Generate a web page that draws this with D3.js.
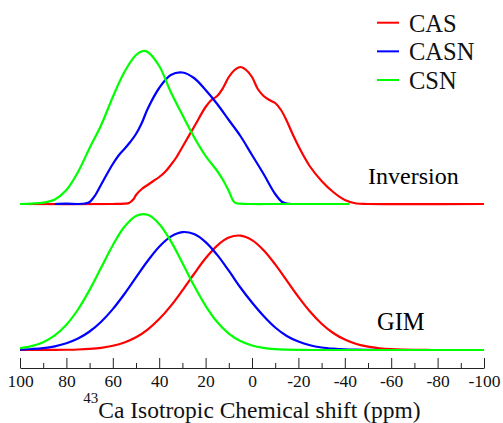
<!DOCTYPE html>
<html>
<head>
<meta charset="utf-8">
<script src="https://cdn.jsdelivr.net/npm/d3@7/dist/d3.min.js"></script>
<style>
  html, body { margin: 0; padding: 0; background: #fff; }
  svg { display: block; }
</style>
</head>
<body>
<svg id="chart" width="503" height="423"></svg>
<script>
// 43Ca isotropic chemical shift distributions, two panels:
// "Inversion" (upper, offset) and "GIM" (lower).

// Shift grid (ppm) for the GIM curves
const gimShift = [100, 95, 90, 85, 80, 75, 70, 65, 60, 55,
                  50, 45, 40, 35, 30, 25, 20, 15, 10, 5,
                  0, -5, -10, -15, -20, -25, -30, -35, -40, -45,
                  -50, -55, -60, -65, -70, -75, -80, -85, -90, -95, -100];

// GIM intensities (arbitrary units)
const gimCAS  = [0, 0, 0.04, 0.1, 0.23, 0.5, 1.1, 2.2, 4.2, 7.5,
                 12.7, 20.4, 30.9, 44.1, 59.6, 76.0, 91.7, 104.4, 112.4, 114.4,
                 109.9, 99.8, 85.6, 69.4, 53.2, 38.5, 26.3, 17.0, 10.4, 6.0,
                 3.3, 1.7, 0.8, 0.35, 0.15, 0.06, 0, 0, 0, 0, 0];
const gimCASN = [0.45, 1.0, 1.9, 3.7, 6.7, 11.4, 18.5, 28.3, 40.9, 56.0,
                 72.6, 89.0, 103.3, 113.4, 117.9, 115.9, 107.9, 95.1, 79.3, 62.5,
                 47.5, 34.0, 22.5, 14.0, 8.4, 4.7, 2.5, 1.3, 0.6, 0.3,
                 0.1, 0, 0, 0, 0, 0, 0, 0, 0, 0, 0];
const gimCSN  = [1.8, 3.9, 7.8, 14.6, 25.3, 40.5, 60.1, 82.5, 104.8, 123.2,
                 134.1, 135.2, 126.1, 108.9, 87.1, 64.4, 44.2, 28.0, 16.4, 8.9,
                 4.5, 2.1, 0.9, 0.4, 0.15, 0, 0, 0, 0, 0,
                 0, 0, 0, 0, 0, 0, 0, 0, 0, 0, 0];

// Inversion curves: shift (ppm) and intensity per system
const invShiftCAS = [100, 60, 55, 53, 51, 50, 47.5, 45, 42.5, 40,
                     37.5, 35, 32.5, 30, 25, 20, 17.5, 15, 12.5, 10,
                     7.5, 5, 2.5, 0, -2.5, -5, -7.5, -10, -12.5, -15,
                     -17.5, -20, -25, -30, -35, -40, -45, -50, -100];
const invCAS      = [0, 0, 0.3, 1, 5, 9, 15, 19, 23, 27,
                     32, 39, 47, 57, 77, 97, 104, 108, 116, 127,
                     134, 137, 134, 127, 115, 108, 104, 101, 94, 83,
                     70, 58, 37.5, 23, 12, 4, 0.5, 0, 0];

const invShiftCASN = [85, 80, 75, 72, 70, 67.5, 65, 62.5, 60, 57.5,
                      55, 52.5, 50, 47.5, 45, 40, 35, 30, 25, 20,
                      15, 10, 5, 0, -5, -10, -13, -15, -18];
const invCASN      = [0, 0.3, 0, 0.5, 2, 9, 19.5, 30, 40, 48.5,
                      55, 62, 70, 81, 95, 116, 129, 131.5, 126, 114,
                      100, 84, 68, 49, 30, 10, 2, 0.3, 0];

const invShiftCSN = [100, 95, 90, 85, 80, 75, 70, 65, 60, 55,
                     50, 47, 45, 40, 35, 30, 25, 20, 15, 12.5,
                     10, 7.5, 5, 0, -10, -42];
const invCSN      = [0, 0.4, 1.3, 4.5, 14, 32, 56, 79, 107, 132,
                     149, 153, 152, 138, 112, 89, 67, 48, 33, 24,
                     13, 1.5, 0.3, 0, 0, 0];

const seriesNames  = ["CAS", "CASN", "CSN"];
const seriesColors = ["#ff0000", "#0000ff", "#00ff00"];

const majorTicks = [100, 80, 60, 40, 20, 0, -20, -40, -60, -80, -100];
const minorTicks = [90, 70, 50, 30, 10, -10, -30, -50, -70, -90];

const inversionOffset = 146;

const svg = d3.select("#chart");
const serif = "'Liberation Serif', 'Times New Roman', serif";

const x = d3.scaleLinear().domain([100, -100]).range([20, 484]);
const y = d3.scaleLinear().domain([0, 350]).range([350, 0]);

const zip = (xs, ys) => xs.map((v, i) => [v, ys[i]]);

function drawPanel(sets, offset) {
  const line = d3.line()
    .x(d => x(d[0]))
    .y(d => y(d[1] + offset))
    .curve(d3.curveCatmullRom.alpha(0.5));
  svg.append("g")
    .selectAll("path")
    .data(sets)
    .join("path")
    .attr("d", d => line(d.points))
    .attr("fill", "none")
    .attr("stroke", d => d.color)
    .attr("stroke-width", 2.2)
    .attr("stroke-linejoin", "round");
}

// GIM panel
drawPanel([
  { points: zip(gimShift, gimCAS),  color: seriesColors[0] },
  { points: zip(gimShift, gimCASN), color: seriesColors[1] },
  { points: zip(gimShift, gimCSN),  color: seriesColors[2] }
], 0);

// Inversion panel
drawPanel([
  { points: zip(invShiftCAS, invCAS),   color: seriesColors[0] },
  { points: zip(invShiftCASN, invCASN), color: seriesColors[1] },
  { points: zip(invShiftCSN, invCSN),   color: seriesColors[2] }
], inversionOffset);

// Panel labels
svg.append("text")
  .attr("x", 368).attr("y", 184)
  .attr("font-family", serif).attr("font-size", 24)
  .attr("fill", "#000")
  .text("Inversion");
svg.append("text")
  .attr("x", 377).attr("y", 330)
  .attr("font-family", serif).attr("font-size", 24.5)
  .attr("fill", "#000")
  .text("GIM");

// x axis: major ticks with labels, minor ticks without
const axisY = 368;
const gMajor = svg.append("g")
  .attr("transform", `translate(0,${axisY})`)
  .call(d3.axisBottom(x)
    .tickValues(majorTicks)
    .tickSize(-10)
    .tickSizeOuter(0)
    .tickPadding(7)
    .tickFormat(d => String(d)));
gMajor.attr("font-family", serif).attr("font-size", 17.5);
gMajor.selectAll("text").attr("fill", "#111");
gMajor.selectAll("line, path").attr("stroke", "#222");

const gMinor = svg.append("g")
  .attr("transform", `translate(0,${axisY})`)
  .call(d3.axisBottom(x)
    .tickValues(minorTicks)
    .tickSize(-5)
    .tickSizeOuter(0)
    .tickFormat(""));
gMinor.select(".domain").remove();
gMinor.selectAll("line").attr("stroke", "#222");

// Axis title with superscript mass number
const title = svg.append("text")
  .attr("x", 252).attr("y", 418)
  .attr("text-anchor", "middle")
  .attr("font-family", serif)
  .attr("fill", "#111");
title.append("tspan").attr("font-size", 15).attr("dy", -15).text("43");
title.append("tspan").attr("font-size", 23.5).attr("dy", 15).text("Ca Isotropic Chemical shift (ppm)");

// Legend
const legend = svg.append("g");
const legendY = d3.scalePoint().domain(seriesNames).range([22.7, 80]);
seriesNames.forEach((name, i) => {
  legend.append("line")
    .attr("x1", 377).attr("x2", 399)
    .attr("y1", legendY(name)).attr("y2", legendY(name))
    .attr("stroke", seriesColors[i]).attr("stroke-width", 2);
  legend.append("text")
    .attr("x", 409).attr("y", legendY(name) + 9)
    .attr("font-family", serif).attr("font-size", 24.5)
    .attr("fill", "#111")
    .text(name);
});
</script>
</body>
</html>
